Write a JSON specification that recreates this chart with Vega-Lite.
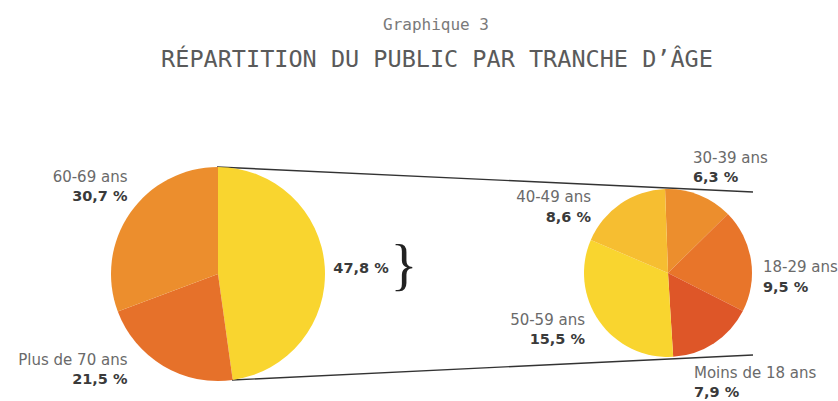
{
  "$schema": "https://vega.github.io/schema/vega-lite/v6.json",
  "width": 838,
  "height": 401,
  "padding": 0,
  "autosize": "none",
  "background": "white",
  "config": {"view": {"stroke": null}},
  "datasets": {
    "leftPie": [
      {"cat": "Moins de 70 ans", "value": 47.8, "ord": 1},
      {"cat": "Plus de 70 ans", "value": 21.5, "ord": 2},
      {"cat": "60-69 ans", "value": 30.7, "ord": 3}
    ],
    "rightPie": [
      {"cat": "30-39 ans", "value": 6.3, "ord": 1},
      {"cat": "18-29 ans", "value": 9.5, "ord": 2},
      {"cat": "Moins de 18 ans", "value": 7.9, "ord": 3},
      {"cat": "50-59 ans", "value": 15.5, "ord": 4},
      {"cat": "40-49 ans", "value": 8.6, "ord": 5}
    ],
    "labels": [
      {"cat": "60-69 ans", "pct": "30,7 %", "x": 127.5, "y": 181.5, "yv": 200.5, "side": "L"},
      {"cat": "Plus de 70 ans", "pct": "21,5 %", "x": 127.5, "y": 365, "yv": 383.5, "side": "L"},
      {"cat": "40-49 ans", "pct": "8,6 %", "x": 591, "y": 201.5, "yv": 221.5, "side": "L"},
      {"cat": "50-59 ans", "pct": "15,5 %", "x": 585, "y": 325, "yv": 343.5, "side": "L"},
      {"cat": "30-39 ans", "pct": "6,3 %", "x": 693, "y": 163.3, "yv": 181.7, "side": "R"},
      {"cat": "18-29 ans", "pct": "9,5 %", "x": 763, "y": 272.3, "yv": 291.7, "side": "R"},
      {"cat": "Moins de 18 ans", "pct": "7,9 %", "x": 694, "y": 378.3, "yv": 396.7, "side": "R"}
    ],
    "lines": [
      {"x": 217, "y": 167, "x2": 753, "y2": 192},
      {"x": 232, "y": 380, "x2": 753, "y2": 355}
    ]
  },
  "resolve": {"scale": {"theta": "independent"}},
  "layer": [
    {
      "data": {"name": "lines"},
      "mark": {"type": "rule", "color": "#333333", "strokeWidth": 1.4},
      "encoding": {
        "x": {"field": "x", "type": "quantitative", "scale": {"domain": [0, 838], "nice": false, "zero": false}, "axis": null},
        "y": {"field": "y", "type": "quantitative", "scale": {"domain": [401, 0], "nice": false, "zero": false}, "axis": null},
        "x2": {"field": "x2"},
        "y2": {"field": "y2"}
      }
    },
    {
      "data": {"name": "leftPie"},
      "mark": {"type": "arc", "outerRadius": 107},
      "encoding": {
        "x": {"datum": 218, "type": "quantitative"},
        "y": {"datum": 274, "type": "quantitative"},
        "theta": {"field": "value", "type": "quantitative", "stack": true},
        "order": {"field": "ord", "type": "quantitative"},
        "color": {
          "field": "cat", "type": "nominal", "legend": null,
          "scale": {
            "domain": ["Moins de 70 ans", "Plus de 70 ans", "60-69 ans", "30-39 ans", "18-29 ans", "Moins de 18 ans", "50-59 ans", "40-49 ans"],
            "range": ["#F9D52F", "#E6712A", "#EC8E2D", "#EC8E2D", "#E8752A", "#DE5628", "#F9D52F", "#F6BE31"]
          }
        }
      }
    },
    {
      "data": {"name": "rightPie"},
      "mark": {"type": "arc", "outerRadius": 84},
      "encoding": {
        "x": {"datum": 668, "type": "quantitative"},
        "y": {"datum": 273, "type": "quantitative"},
        "theta": {"field": "value", "type": "quantitative", "stack": true, "scale": {"range": [-0.035, 6.248]}},
        "order": {"field": "ord", "type": "quantitative"},
        "color": {"field": "cat", "type": "nominal", "legend": null}
      }
    },
    {
      "data": {"name": "labels"},
      "transform": [{"filter": "datum.side === 'L'"}],
      "mark": {"type": "text", "align": "right", "baseline": "alphabetic", "font": "DejaVu Sans", "fontSize": 15, "color": "#6a6a6a"},
      "encoding": {
        "x": {"field": "x", "type": "quantitative"},
        "y": {"field": "y", "type": "quantitative"},
        "text": {"field": "cat"}
      }
    },
    {
      "data": {"name": "labels"},
      "transform": [{"filter": "datum.side === 'L'"}],
      "mark": {"type": "text", "align": "right", "baseline": "alphabetic", "font": "DejaVu Sans", "fontSize": 14.5, "fontWeight": "bold", "color": "#3a3a3a"},
      "encoding": {
        "x": {"field": "x", "type": "quantitative"},
        "y": {"field": "yv", "type": "quantitative"},
        "text": {"field": "pct"}
      }
    },
    {
      "data": {"name": "labels"},
      "transform": [{"filter": "datum.side === 'R'"}],
      "mark": {"type": "text", "align": "left", "baseline": "alphabetic", "font": "DejaVu Sans", "fontSize": 15, "color": "#6a6a6a"},
      "encoding": {
        "x": {"field": "x", "type": "quantitative"},
        "y": {"field": "y", "type": "quantitative"},
        "text": {"field": "cat"}
      }
    },
    {
      "data": {"name": "labels"},
      "transform": [{"filter": "datum.side === 'R'"}],
      "mark": {"type": "text", "align": "left", "baseline": "alphabetic", "font": "DejaVu Sans", "fontSize": 14.5, "fontWeight": "bold", "color": "#3a3a3a"},
      "encoding": {
        "x": {"field": "x", "type": "quantitative"},
        "y": {"field": "yv", "type": "quantitative"},
        "text": {"field": "pct"}
      }
    },
    {
      "data": {"values": [{"t": "47,8 %", "x": 361, "y": 272.7}]},
      "mark": {"type": "text", "align": "center", "baseline": "alphabetic", "font": "DejaVu Sans", "fontSize": 14.5, "fontWeight": "bold", "color": "#3a3a3a"},
      "encoding": {
        "x": {"field": "x", "type": "quantitative"},
        "y": {"field": "y", "type": "quantitative"},
        "text": {"field": "t"}
      }
    },
    {
      "data": {"values": [{"t": "}", "x": 404, "y": 284}]},
      "mark": {"type": "text", "align": "center", "baseline": "alphabetic", "font": "Liberation Serif", "fontSize": 56, "color": "#222222"},
      "encoding": {
        "x": {"field": "x", "type": "quantitative"},
        "y": {"field": "y", "type": "quantitative"},
        "text": {"field": "t"}
      }
    },
    {
      "data": {"values": [
        {"t": "Graphique 3", "x": 436, "y": 30}
      ]},
      "mark": {"type": "text", "align": "center", "baseline": "alphabetic", "font": "DejaVu Sans Mono", "fontSize": 16, "color": "#7a7a7a"},
      "encoding": {
        "x": {"field": "x", "type": "quantitative"},
        "y": {"field": "y", "type": "quantitative"},
        "text": {"field": "t"}
      }
    },
    {
      "data": {"values": [
        {"t": "RÉPARTITION DU PUBLIC PAR TRANCHE D’ÂGE", "x": 437, "y": 66.5}
      ]},
      "mark": {"type": "text", "align": "center", "baseline": "alphabetic", "font": "DejaVu Sans Mono", "fontSize": 23.5, "color": "#5a5a5a"},
      "encoding": {
        "x": {"field": "x", "type": "quantitative"},
        "y": {"field": "y", "type": "quantitative"},
        "text": {"field": "t"}
      }
    }
  ]
}
